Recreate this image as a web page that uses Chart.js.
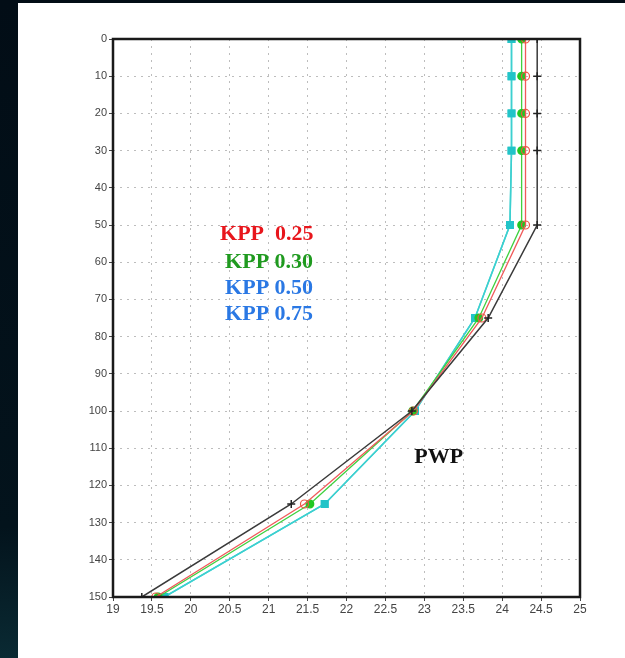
<!DOCTYPE html>
<html>
<head>
<meta charset="utf-8">
<script src="https://cdn.jsdelivr.net/npm/chart.js@4"></script>
<style>
  html, body { margin: 0; padding: 0; background: #03101a; }
  canvas { display: block; }
</style>
</head>
<body>
<canvas id="profileChart" width="625" height="658"></canvas>
<script>
// depth levels (m) and temperature readings for each run
const depths = [0, 10, 20, 30, 50, 75, 100, 125, 150];
const pwp    = [24.45, 24.45, 24.45, 24.45, 24.45, 23.82, 22.84, 21.29, 19.37];
const kpp025 = [24.30, 24.30, 24.30, 24.30, 24.30, 23.74, 22.86, 21.46, 19.55];
const kpp030 = [24.25, 24.25, 24.25, 24.25, 24.25, 23.70, 22.85, 21.53, 19.58];
const kpp050 = [24.12, 24.12, 24.12, 24.12, 24.10, 23.65, 22.88, 21.72, 19.66];
const kpp075 = [24.12, 24.12, 24.12, 24.12, 24.10, 23.65, 22.88, 21.72, 19.66];

const legendLabels = ["KPP  0.25", "KPP 0.30", "KPP 0.50", "KPP 0.75"];
const legendColors = ["#e8161c", "#1f9a1f", "#2a78e4", "#2a78e4"];

function toPoints(temps) {
    return temps.map((t, i) => ({ x: t, y: depths[i] }));
}

// page background: dark slide with a white panel
const backdrop = {
    id: "backdrop",
    beforeDraw(chart) {
        const ctx = chart.ctx;
        ctx.save();
        const g = ctx.createLinearGradient(0, 0, 0, chart.height);
        g.addColorStop(0, "#020d16");
        g.addColorStop(0.8, "#03131c");
        g.addColorStop(1, "#0a2a33");
        ctx.fillStyle = g;
        ctx.fillRect(0, 0, chart.width, chart.height);
        ctx.fillStyle = "#ffffff";
        ctx.fillRect(18, 3, chart.width - 18, chart.height - 3);
        ctx.restore();
    }
};

// frame around the plot and the text labels
const annotations = {
    id: "annotations",
    afterDatasetsDraw(chart) {
        const ctx = chart.ctx;
        const a = chart.chartArea;
        const xs = chart.scales.x;
        const ys = chart.scales.y;
        ctx.save();
        ctx.strokeStyle = "#1a1a1a";
        ctx.lineWidth = 2.5;
        ctx.strokeRect(a.left, a.top, a.right - a.left, a.bottom - a.top);

        ctx.font = "bold 22px 'Liberation Serif', 'Times New Roman', serif";
        ctx.textBaseline = "middle";
        ctx.textAlign = "left";
        const rowDepths = [52.5, 60, 67, 74];
        const rowX = [20.375, 20.44, 20.44, 20.44];
        legendLabels.forEach((txt, i) => {
            ctx.fillStyle = legendColors[i];
            ctx.fillText(txt, xs.getPixelForValue(rowX[i]), ys.getPixelForValue(rowDepths[i]));
        });

        ctx.fillStyle = "#111111";
        ctx.fillText("PWP", xs.getPixelForValue(22.87), ys.getPixelForValue(112.4));
        ctx.restore();
    }
};

const ctx = document.getElementById("profileChart").getContext("2d");

new Chart(ctx, {
    type: "scatter",
    data: {
        datasets: [
            {
                label: "PWP",
                data: toPoints(pwp),
                showLine: true,
                borderColor: "#3a3a3a",
                borderWidth: 1.5,
                pointStyle: "cross",
                pointRadius: 4,
                pointBorderColor: "#222222",
                pointBorderWidth: 1.5,
            },
            {
                label: "KPP 0.25",
                data: toPoints(kpp025),
                showLine: true,
                borderColor: "#f05a5a",
                borderWidth: 1.3,
                pointStyle: "circle",
                pointRadius: 4,
                pointBackgroundColor: "rgba(255,255,255,0)",
                pointBorderColor: "#ee5544",
                pointBorderWidth: 1.2,
            },
            {
                label: "KPP 0.30",
                data: toPoints(kpp030),
                showLine: true,
                borderColor: "#3fd13f",
                borderWidth: 1.3,
                pointStyle: "circle",
                pointRadius: 3.8,
                pointBackgroundColor: "#22c822",
                pointBorderColor: "#22c822",
            },
            {
                label: "KPP 0.50",
                data: toPoints(kpp050),
                showLine: true,
                borderColor: "#3cd0d0",
                borderWidth: 1.5,
                pointStyle: "rect",
                pointRadius: 4.5,
                pointBackgroundColor: "#22c4c8",
                pointBorderColor: "#22c4c8",
            },
            {
                label: "KPP 0.75",
                data: toPoints(kpp075),
                showLine: true,
                borderColor: "#3cd0d0",
                borderWidth: 1.5,
                pointStyle: "rect",
                pointRadius: 4.5,
                pointBackgroundColor: "#22c4c8",
                pointBorderColor: "#22c4c8",
            }
        ]
    },
    options: {
        responsive: false,
        animation: false,
        layout: {
            padding: { left: 83, right: 45, top: 39, bottom: 39 }
        },
        plugins: {
            legend: { display: false },
            tooltip: { enabled: false }
        },
        scales: {
            x: {
                type: "linear",
                min: 19,
                max: 25,
                ticks: {
                    stepSize: 0.5,
                    color: "#444444",
                    font: { family: "'Liberation Sans Narrow', 'Liberation Sans', sans-serif", size: 12 },
                    padding: 1,
                    maxRotation: 0,
                    autoSkip: false,
                    callback: (v) => String(Math.round(v * 10) / 10),
                },
                grid: {
                    color: "#bdbdbd",
                    lineWidth: 1,
                    tickLength: 4,
                    tickColor: "#444444",
                },
                border: { display: false, dash: [2, 5] },
                afterFit(scale) { scale.height = 22; }
            },
            y: {
                type: "linear",
                reverse: true,
                min: 0,
                max: 150,
                ticks: {
                    stepSize: 10,
                    color: "#444444",
                    font: { family: "'Liberation Sans Narrow', 'Liberation Sans', sans-serif", size: 11 },
                    padding: 2,
                    autoSkip: false,
                },
                grid: {
                    color: "#bdbdbd",
                    lineWidth: 1,
                    tickLength: 4,
                    tickColor: "#444444",
                },
                border: { display: false, dash: [2, 5] },
                afterFit(scale) { scale.width = 30; }
            }
        }
    },
    plugins: [backdrop, annotations]
});
</script>
</body>
</html>
